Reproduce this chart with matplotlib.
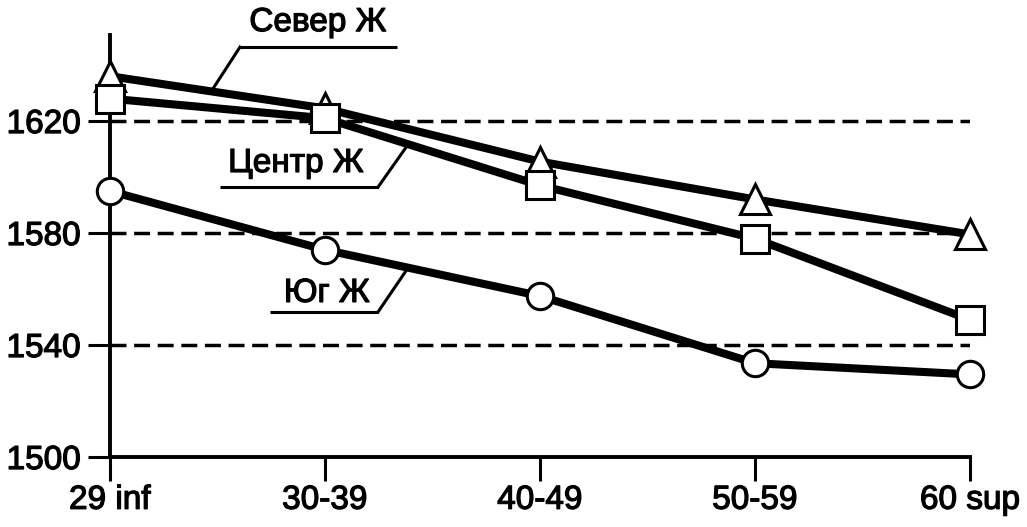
"""
Line chart: three regional series (Север, Центр, Юг) across age groups.
"""

import numpy as np
import matplotlib.pyplot as plt
import matplotlib.patheffects as pe

plt.rcParams['font.family'] = ['Liberation Sans', 'DejaVu Sans']

# data
age_groups = ['29 inf', '30-39', '40-49', '50-59', '60 sup']
sever = [1636, 1624.5, 1605.5, 1592, 1579.5]
centr = [1628, 1621, 1597, 1578, 1549]
yug = [1595, 1574, 1557.5, 1533.5, 1529.5]
y_ticks = [1500, 1540, 1580, 1620]

# slightly heavier glyphs, like the reference
heavy = [pe.withStroke(linewidth=0.9, foreground='black')]


def leader_label(ax, text, text_xy, line_x, line_y, anchor):
    # underline plus slanted leader to the series line
    x0, x1 = line_x
    ax.plot([x0, x1], [line_y, line_y], color='black', lw=2.2,
            solid_capstyle='butt', zorder=5, clip_on=False)
    # leader starts from whichever end of the underline is closer
    start = x0 if abs(anchor[0] - x0) < abs(anchor[0] - x1) else x1
    ax.plot([start, anchor[0]], [line_y, anchor[1]], color='black', lw=2.2,
            zorder=5, clip_on=False)
    ax.text(text_xy[0], text_xy[1], text, fontsize=24, ha='center',
            va='baseline', zorder=6, path_effects=heavy)


def main():
    fig = plt.figure(figsize=(10.27, 5.27), dpi=100)
    ax = fig.add_axes([0.107, 0.1328, 0.8375, 0.8007])
    x = np.arange(len(age_groups))

    for yv in y_ticks[1:]:
        ax.axhline(yv, color='black', lw=2.5, dashes=(4.6, 2.2), zorder=1)

    line_kw = dict(color='black', lw=5.8, solid_capstyle='butt', zorder=3)
    ax.plot(x, yug, **line_kw)
    ax.plot(x, sever, **line_kw)
    ax.plot(x, centr, **line_kw)

    mk_kw = dict(ls='none', mfc='white', mec='black', mew=2.2, zorder=4,
                 clip_on=False)
    ax.plot(x, yug, marker='o', ms=19, **mk_kw)
    ax.plot(x, sever, marker='^', ms=21, **mk_kw)
    ax.plot(x, centr, marker='s', ms=20, **mk_kw)

    ax.set_xlim(0, 4)
    ax.set_ylim(1500, 1650.7)
    ax.set_xticks(x)
    ax.set_xticklabels(age_groups)
    ax.set_yticks(y_ticks)
    ax.tick_params(axis='both', labelsize=24, width=2.2, direction='out')
    ax.tick_params(axis='y', length=16, pad=5)
    ax.tick_params(axis='x', length=17, pad=3)
    for lbl in ax.get_xticklabels() + ax.get_yticklabels():
        lbl.set_path_effects(heavy)

    for side in ['top', 'right']:
        ax.spines[side].set_visible(False)
    for side in ['left', 'bottom']:
        ax.spines[side].set_linewidth(2.8)

    leader_label(ax, 'Север Ж', (0.967, 1652.1), (0.605, 1.335), 1646.4,
                 (0.479, 1631.5))
    leader_label(ax, 'Центр Ж', (0.865, 1601.8), (0.512, 1.247), 1596.4,
                 (1.381, 1611.0))
    leader_label(ax, 'Юг Ж', (1.009, 1555.4), (0.744, 1.247), 1551.8,
                 (1.386, 1567.5))

    fig.savefig('out.png', dpi=100)


if __name__ == '__main__':
    main()
